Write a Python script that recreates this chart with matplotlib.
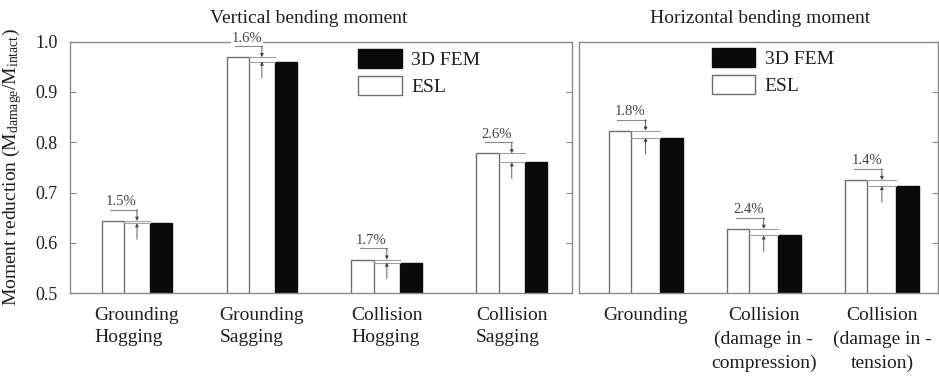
import matplotlib
matplotlib.use("Agg")
import matplotlib.pyplot as plt
from matplotlib.patches import Patch
import numpy as np

plt.rcParams['font.family'] = ['Liberation Serif', 'DejaVu Serif']
plt.rcParams['mathtext.fontset'] = 'custom'
plt.rcParams['mathtext.rm'] = 'Liberation Serif'
plt.rcParams['mathtext.it'] = 'Liberation Serif:italic'

# Vertical bending moment cases
vert_cases = ['Grounding\nHogging', 'Grounding\nSagging',
              'Collision\nHogging', 'Collision\nSagging']
vert_esl = [0.644, 0.969, 0.567, 0.778]
vert_fem = [0.639, 0.960, 0.561, 0.760]
vert_diff = ['1.5%', '1.6%', '1.7%', '2.6%']

# Horizontal bending moment cases
horz_cases = ['Grounding', 'Collision\n(damage in -\ncompression)',
              'Collision\n(damage in -\ntension)']
horz_esl = [0.823, 0.628, 0.725]
horz_fem = [0.809, 0.615, 0.713]
horz_diff = ['1.8%', '2.4%', '1.4%']

yticks = [0.5, 0.6, 0.7, 0.8, 0.9, 1.0]

SPINE = '#8a8a8a'
EDGE = '#6e6e6e'
NOTE = '#444444'
TEXT = '#1e1e1e'

fig = plt.figure(figsize=(9.39, 3.77), dpi=100)
ax1 = fig.add_axes([70 / 939, 1 - 293.3 / 377, 501.5 / 939, 251.8 / 377])
ax2 = fig.add_axes([578.5 / 939, 1 - 293.3 / 377, 359.5 / 939, 251.8 / 377])


def draw_panel(ax, cases, esl, fem, diffs, off, width, xlim, align, spacing):
    x = np.arange(len(cases))
    ax.bar(x - off, esl, width, color='white', edgecolor=EDGE, linewidth=1.0, zorder=2)
    ax.bar(x + off, fem, width, color='#0a0a0a', edgecolor='#0a0a0a', linewidth=1.0, zorder=2)

    for xi, e, f, d in zip(x, esl, fem, diffs):
        left = xi - off + width / 2
        right = xi + off - width / 2
        top = e + 0.022
        # reference levels across the gap
        ax.plot([left, right], [e, e], color='#a0a0a0', lw=0.8, zorder=3)
        ax.plot([left, right], [f, f], color='#a0a0a0', lw=0.8, zorder=3)
        # underline of the label
        ax.plot([xi - off - 0.02, xi], [top, top], color='#8a8a8a', lw=0.8, zorder=3)
        ax.annotate('', xy=(xi, e), xytext=(xi, top),
                    arrowprops=dict(arrowstyle='-|>', color=NOTE, lw=0.6,
                                    mutation_scale=5, shrinkA=0, shrinkB=0),
                    zorder=4)
        ax.annotate('', xy=(xi, f), xytext=(xi, f - 0.032),
                    arrowprops=dict(arrowstyle='-|>', color=NOTE, lw=0.6,
                                    mutation_scale=5, shrinkA=0, shrinkB=0),
                    zorder=4)
        ax.text(xi, top + 0.003, d, ha='right', va='bottom', fontsize=10.5,
                color=NOTE, zorder=5, clip_on=False,
                bbox=dict(facecolor='white', edgecolor='none', pad=0.5))

    ax.set_xlim(*xlim)
    ax.set_ylim(0.5, 1.0)
    ax.set_xticks(x)
    ax.set_xticklabels(cases, fontsize=14, linespacing=spacing,
                       multialignment=align, color=TEXT)
    ax.tick_params(axis='x', length=0, pad=10)
    for s in ax.spines.values():
        s.set_color(SPINE)
        s.set_linewidth(1.0)
    ax.set_yticks(yticks)

    handles = [Patch(facecolor='#0a0a0a', edgecolor='#0a0a0a', label='3D FEM'),
               Patch(facecolor='white', edgecolor=EDGE, label='ESL')]
    return handles


h = draw_panel(ax1, vert_cases, vert_esl, vert_fem, vert_diff,
               off=0.193, width=0.18, xlim=(-0.536, 3.478), align='left',
               spacing=1.4)
ax1.tick_params(axis='y', direction='in', length=4, color=SPINE, pad=9,
                labelsize=13, labelcolor=TEXT, right=True, left=True)
ax1.set_yticklabels([f'{v:.1f}' for v in yticks])
ax1.set_ylabel(r'Moment reduction (M$_{\mathrm{damage}}$/M$_{\mathrm{intact}}$)',
               fontsize=14, labelpad=8, color=TEXT)
ax1.set_title('Vertical bending moment', fontsize=14, x=0.477, pad=13, color=TEXT)
ax1.legend(handles=h, loc='upper left', bbox_to_anchor=(0.575, 0.969),
           frameon=False, fontsize=14, handlelength=2.23, handleheight=1.12,
           handletextpad=0.5, labelspacing=0.35, borderpad=0, borderaxespad=0,
           labelcolor=TEXT)

draw_panel(ax2, horz_cases, horz_esl, horz_fem, horz_diff,
           off=0.218, width=0.19, xlim=(-0.568, 2.475), align='center',
           spacing=1.5)
ax2.tick_params(axis='y', direction='in', length=4, color=SPINE,
                left=False, right=True, labelleft=False, labelright=False)
ax2.set_title('Horizontal bending moment', fontsize=14, x=0.506, pad=13, color=TEXT)
ax2.legend(handles=h, loc='upper left', bbox_to_anchor=(0.3705, 0.973),
           frameon=False, fontsize=14, handlelength=2.23, handleheight=1.12,
           handletextpad=0.5, labelspacing=0.35, borderpad=0, borderaxespad=0,
           labelcolor=TEXT)

fig.savefig('out.png', dpi=100)
